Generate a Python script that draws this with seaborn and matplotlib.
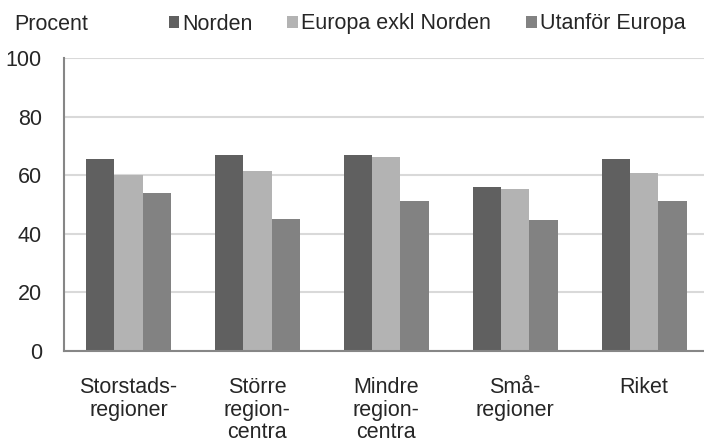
import pandas as pd
import numpy as np
import matplotlib
matplotlib.use('Agg')
import matplotlib.pyplot as plt
import seaborn as sns

categories = ['Storstads-\nregioner', 'Större\nregion-\ncentra', 'Mindre\nregion-\ncentra',
              'Små-\nregioner', 'Riket']
series = ['Norden', 'Europa exkl Norden', 'Utanför Europa']
norden = [65.6, 66.9, 66.9, 56.1, 65.6]
europa = [60.2, 61.6, 66.3, 55.4, 60.9]
utanfor = [54.0, 45.1, 51.3, 44.6, 51.3]
colors = ['#606060', '#b3b3b3', '#828282']

# long format for seaborn
df = pd.DataFrame({
    'Region': categories * 3,
    'Grupp': [s for s in series for _ in categories],
    'Procent': norden + europa + utanfor,
})

sns.set_style('white')
plt.rcParams['font.family'] = ['Liberation Sans', 'DejaVu Sans']
fs = 15.5

fig = plt.figure(figsize=(7.04, 4.45), dpi=100)
ax = fig.add_axes([64 / 704, 1 - 350.7 / 445, 644.5 / 704, 292.4 / 445])

sns.barplot(data=df, x='Region', y='Procent', hue='Grupp', palette=colors,
            width=0.66, ax=ax, edgecolor='none', saturation=1)

ax.set_ylim(0, 100)
ax.set_xlim(-0.5, len(categories) - 0.5)
ax.set_yticks(np.arange(0, 101, 20))
ax.yaxis.grid(True, color='#d9d9d9', linewidth=1.5)
ax.set_axisbelow(True)

# category boundaries as ticks, labels in the middle
ax.set_xticks(np.arange(-0.5, len(categories), 1))
ax.set_xticklabels([])
ax.set_xticks(np.arange(len(categories)), minor=True)
ax.set_xticklabels(categories, minor=True, fontsize=fs, linespacing=1.1)
ax.tick_params(axis='x', which='minor', length=0, pad=19)
ax.tick_params(axis='x', which='major', length=6, width=1.2, color='#868686', direction='out')
ax.tick_params(axis='y', length=6, width=1.2, color='#868686', labelsize=fs, pad=10)
ax.set_xlabel('')
ax.set_ylabel('')

for side in ['top', 'right']:
    ax.spines[side].set_visible(False)
for side in ['left', 'bottom']:
    ax.spines[side].set_color('#868686')
    ax.spines[side].set_linewidth(1.5)

handles, labels = ax.get_legend_handles_labels()
ax.get_legend().remove()
fig.legend(handles, labels, loc='center right', bbox_to_anchor=(694 / 704, 1 - 24 / 445),
           ncol=3, frameon=False, fontsize=fs, handlelength=0.5, handleheight=0.5,
           handletextpad=0.15, columnspacing=1.6, borderaxespad=0)

fig.text(14 / 704, 1 - 24 / 445, 'Procent', fontsize=fs, va='center', ha='left')

fig.savefig('out.png', dpi=100)
